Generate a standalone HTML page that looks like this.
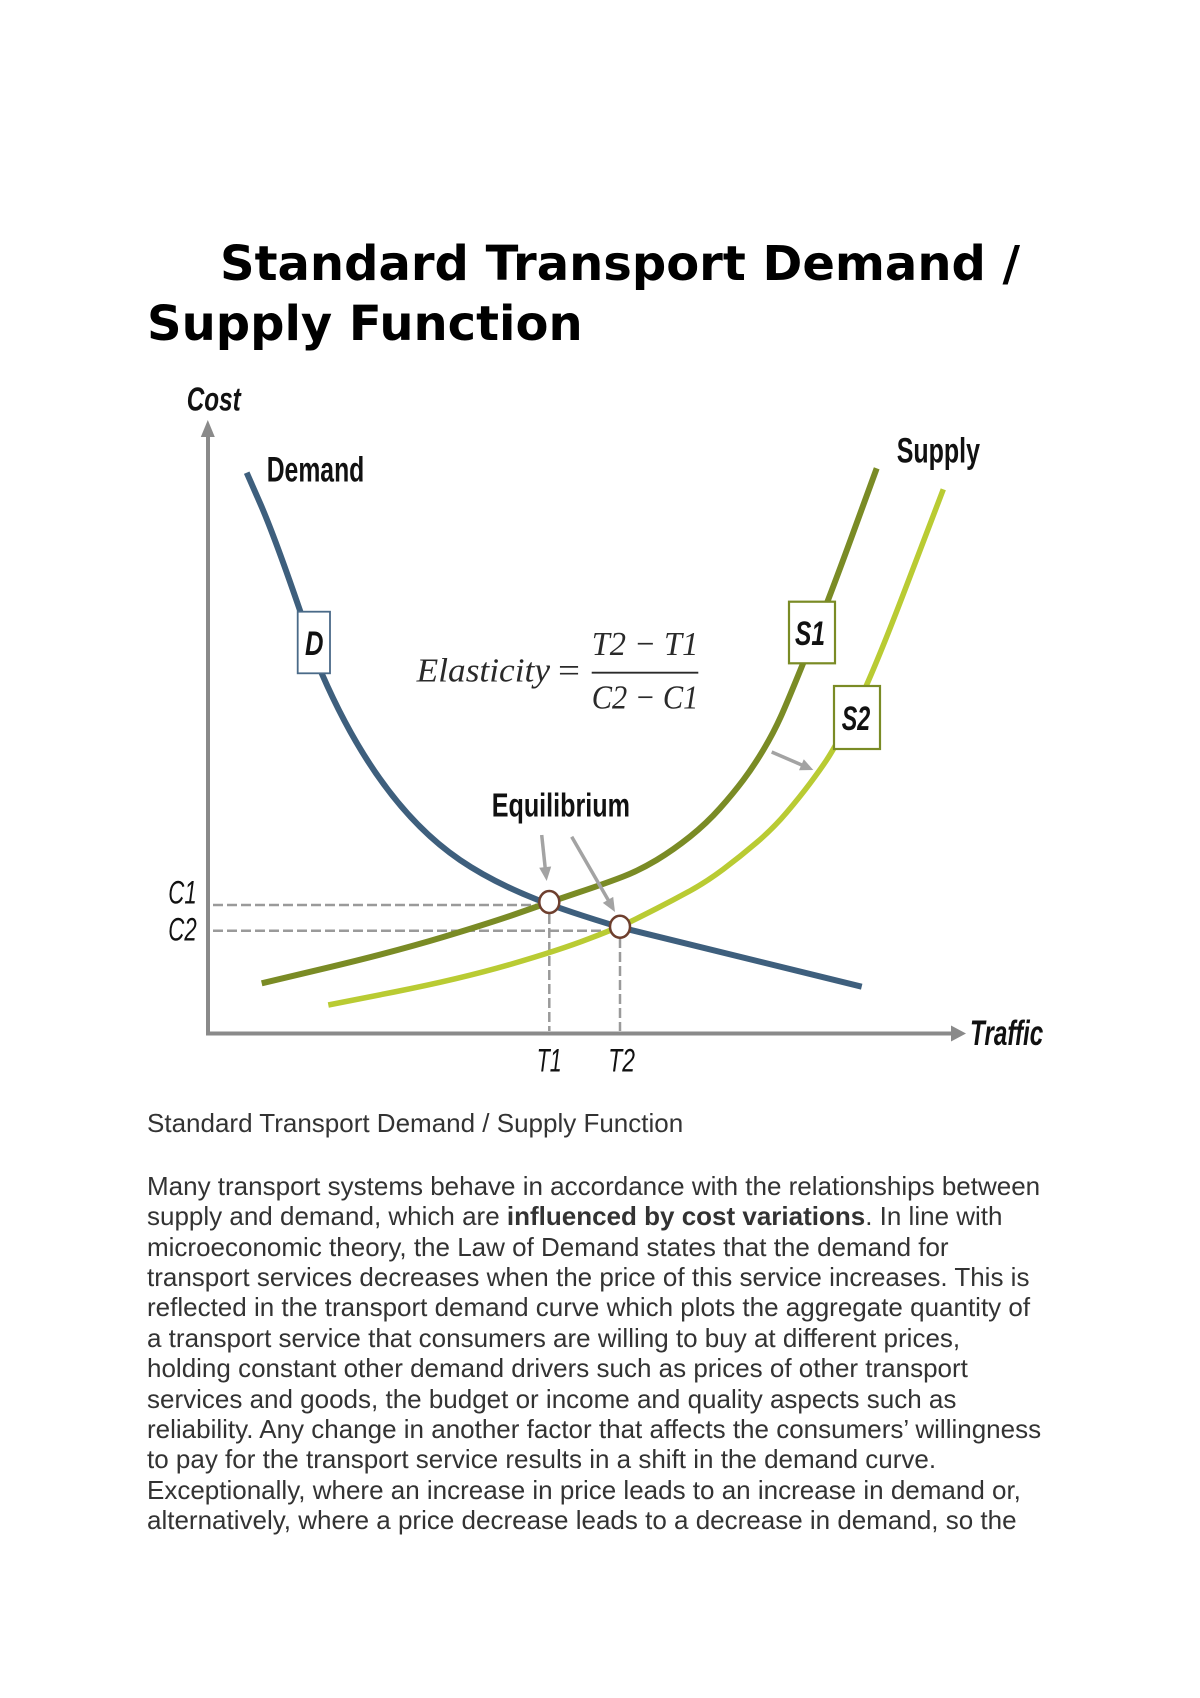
<!DOCTYPE html>
<html>
<head>
<meta charset="utf-8">
<style>
  html, body { margin:0; padding:0; background:#fff; }
  body { width:1200px; height:1698px; position:relative; overflow:hidden; }
  .title { position:absolute; left:147px; top:234.4px; font-family:"DejaVu Sans","Liberation Sans",sans-serif; font-weight:bold; font-size:48px; line-height:60px; color:#000; white-space:nowrap; }
  .title .l1 { padding-left:73px; }
  .caption { position:absolute; left:147px; top:1107.8px; font-family:"Liberation Sans",Arial,sans-serif; font-size:26px; line-height:30.4px; color:#333; white-space:nowrap; }
  .body { position:absolute; left:147px; top:1170.8px; font-family:"Liberation Sans",Arial,sans-serif; font-size:26px; line-height:30.4px; color:#333; white-space:nowrap; }
  .body b { color:#333; }
  svg { position:absolute; left:0; top:0; }
</style>
</head>
<body>
<div class="title"><span class="l1">Standard Transport Demand /</span><br>Supply Function</div>

<svg width="1200" height="1698" viewBox="0 0 1200 1698" xmlns="http://www.w3.org/2000/svg">
  <!-- axes -->
  <line x1="208" y1="436" x2="208" y2="1035.5" stroke="#8a8a8a" stroke-width="4"/>
  <polygon points="207.8,420 200.8,437 214.8,437" fill="#8a8a8a"/>
  <line x1="206" y1="1033.5" x2="952" y2="1033.5" stroke="#8a8a8a" stroke-width="4"/>
  <polygon points="966,1033.5 951,1025.5 951,1041.5" fill="#8a8a8a"/>

  <!-- dashed guide lines -->
  <g stroke="#9a9a9a" stroke-width="2.5" stroke-dasharray="10 4" fill="none">
    <path d="M213,905 H538"/>
    <path d="M213,930.7 H609"/>
    <path d="M549.3,914 V1031"/>
    <path d="M620,938 V1031"/>
  </g>

  <!-- S2 curve -->
  <path fill="none" stroke="#b9cb33" stroke-width="5.5" stroke-linejoin="round"
    d="M328.3,1005 L394.15,992 Q460,979 510,964.5 Q560,950 590,938.35 Q620,926.7 630,921.85 Q640,917 656.65,908.5 Q673.3,900 690,890.85 Q706.7,881.7 723.35,869.2 Q740,856.7 756.65,842.5 Q773.3,828.3 786.65,812.5 Q800,796.7 810,783.35 Q820,770 826.65,760 Q833.3,750 850.8,718 Q868.3,686 905.8,587.65 L943.3,489.3"/>
  <!-- S1 curve -->
  <path fill="none" stroke="#7a8b25" stroke-width="6" stroke-linejoin="round"
    d="M261.7,983.3 L327.5,967.65 Q393.3,952 443.3,937 Q493.3,922 520.8,912.25 Q548.3,902.5 577.5,892.75 Q606.7,883 623.35,876.5 Q640,870 656.65,860 Q673.3,850 690,836.65 Q706.7,823.3 720,808.3 Q733.3,793.3 743.3,780 Q753.3,766.7 763.3,750 Q773.3,733.3 780.8,716.65 Q788.3,700 808.15,650.85 Q828,601.7 852.35,535 L876.7,468.3"/>
  <!-- Demand curve -->
  <path fill="none" stroke="#3e5f7d" stroke-width="6" stroke-linejoin="round"
    d="M246.7,472.7 L260,503 Q273.3,533.3 297.5,603.3 L321.7,673.3 C352.4,743.9 396.3,816.7 460,860 C507.9,892.6 564.4,910.6 620,927.3 L861.7,986.7"/>

  <!-- equilibrium circles -->
  <ellipse cx="549.3" cy="902" rx="10" ry="11" fill="#fff" stroke="#6e3f2e" stroke-width="2.5"/>
  <ellipse cx="620" cy="926.7" rx="10" ry="11" fill="#fff" stroke="#6e3f2e" stroke-width="2.5"/>

  <!-- gray arrows -->
  <g stroke="#a3a3a3" stroke-width="3.5" fill="none" stroke-linecap="butt">
    <line x1="541.7" y1="835" x2="545.2" y2="868"/>
    <line x1="571.7" y1="836.7" x2="608.5" y2="900.5"/>
    <line x1="771.7" y1="752" x2="801.8" y2="765"/>
  </g>
  <g fill="#a3a3a3">
    <polygon points="546.7,881 551.2,866.5 539.2,867.7"/>
    <polygon points="615,912 613.2,896.9 602.8,902.9"/>
    <polygon points="813.3,770 803.8,759.3 799,770.3"/>
  </g>

  <!-- label boxes -->
  <rect x="297.7" y="611.7" width="32.3" height="61.6" fill="#fff" stroke="#4a6a88" stroke-width="1.8"/>
  <rect x="789" y="601.7" width="46" height="61.6" fill="#fff" stroke="#7a8b25" stroke-width="2.2"/>
  <rect x="834" y="686" width="46" height="63" fill="#fff" stroke="#7a8b25" stroke-width="2.2"/>

  <g font-family="'Liberation Sans Narrow','Liberation Sans',Arial,sans-serif" fill="#111">
    <text x="305" y="655" font-size="34" font-weight="bold" font-style="italic" textLength="18.5" lengthAdjust="spacingAndGlyphs">D</text>
    <text x="795" y="645" font-size="34" font-weight="bold" font-style="italic" textLength="30" lengthAdjust="spacingAndGlyphs">S1</text>
    <text x="841.7" y="730" font-size="34" font-weight="bold" font-style="italic" textLength="28.5" lengthAdjust="spacingAndGlyphs">S2</text>

    <text x="186.7" y="410.7" font-size="33" font-weight="bold" font-style="italic" textLength="54" lengthAdjust="spacingAndGlyphs">Cost</text>
    <text x="266.7" y="481.7" font-size="35" font-weight="bold" textLength="97.6" lengthAdjust="spacingAndGlyphs">Demand</text>
    <text x="896.7" y="462.7" font-size="35" font-weight="bold" textLength="83.3" lengthAdjust="spacingAndGlyphs">Supply</text>
    <text x="491.7" y="816.7" font-size="33" font-weight="bold" textLength="138.3" lengthAdjust="spacingAndGlyphs">Equilibrium</text>
    <text x="970" y="1045" font-size="35" font-weight="bold" font-style="italic" textLength="73.3" lengthAdjust="spacingAndGlyphs">Traffic</text>

    <text x="168.3" y="903.3" font-size="32" font-style="italic" textLength="28.4" lengthAdjust="spacingAndGlyphs">C1</text>
    <text x="168.3" y="940.7" font-size="32" font-style="italic" textLength="28.4" lengthAdjust="spacingAndGlyphs">C2</text>
    <text x="536.7" y="1071.7" font-size="32" font-style="italic" textLength="25" lengthAdjust="spacingAndGlyphs">T1</text>
    <text x="608.3" y="1071.7" font-size="32" font-style="italic" textLength="26.7" lengthAdjust="spacingAndGlyphs">T2</text>
  </g>

  <!-- formula -->
  <g font-family="'Liberation Serif','DejaVu Serif',serif" fill="#2a2a2a">
    <text x="416.7" y="681.7" font-size="34" font-style="italic" textLength="133.3" lengthAdjust="spacingAndGlyphs">Elasticity</text>
    <text x="558" y="681.7" font-size="34" textLength="22" lengthAdjust="spacingAndGlyphs">=</text>
    <text x="591.7" y="655" font-size="34" font-style="italic" textLength="106.6" lengthAdjust="spacingAndGlyphs">T2 − T1</text>
    <text x="591.7" y="708.3" font-size="34" font-style="italic" textLength="106.6" lengthAdjust="spacingAndGlyphs">C2 − C1</text>
  </g>
  <line x1="591.7" y1="672.7" x2="698.3" y2="672.7" stroke="#2a2a2a" stroke-width="1.8"/>
</svg>

<div class="caption">Standard Transport Demand / Supply Function</div>

<div class="body">Many transport systems behave in accordance with the relationships between<br>supply and demand, which are <b>influenced by cost variations</b>. In line with<br>microeconomic theory, the Law of Demand states that the demand for<br>transport services decreases when the price of this service increases. This is<br>reflected in the transport demand curve which plots the aggregate quantity of<br>a transport service that consumers are willing to buy at different prices,<br>holding constant other demand drivers such as prices of other transport<br>services and goods, the budget or income and quality aspects such as<br>reliability. Any change in another factor that affects the consumers’ willingness<br>to pay for the transport service results in a shift in the demand curve.<br>Exceptionally, where an increase in price leads to an increase in demand or,<br>alternatively, where a price decrease leads to a decrease in demand, so the</div>
</body>
</html>
